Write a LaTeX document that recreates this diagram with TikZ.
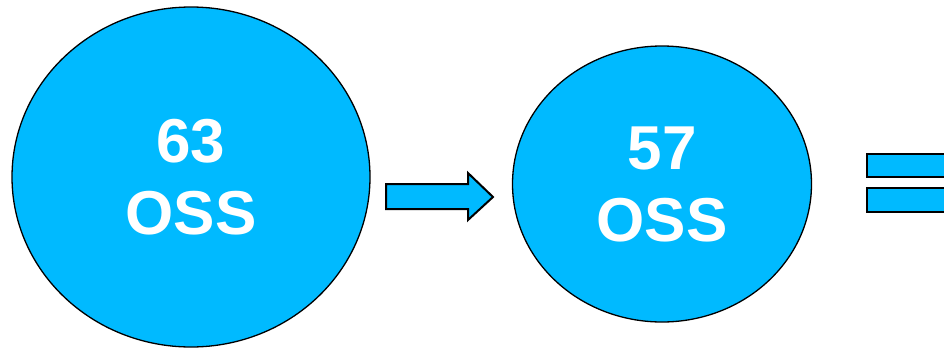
\documentclass[tikz,border=0pt]{standalone}
\usepackage{fontspec}
\setmainfont{Liberation Sans}
\usetikzlibrary{shapes.geometric}
\definecolor{skyfill}{RGB}{0,186,255}
\tikzset{
  bubble/.style={ellipse, draw=black, line width=1.3pt, fill=skyfill, text=white,
    inner sep=0pt, align=center, font=\fontsize{62}{72}\selectfont\bfseries},
  blockshape/.style={draw=black, line width=2pt, fill=skyfill, line join=miter}
}
\begin{document}
\begin{tikzpicture}[x=1pt,y=-1pt]
\useasboundingbox (0,0) rectangle (944,348);
\clip (0,0) rectangle (944,348);
\node[bubble, minimum width=358pt, minimum height=340pt] (big) at (191,177) {63\\OSS};
\node[bubble, minimum width=299pt, minimum height=276pt] (small) at (662,184) {57\\OSS};
% block arrow
\draw[blockshape] (386,184) -- (468,184) -- (468,173) -- (493,197) -- (468,220) -- (468,209) -- (386,209) -- cycle;
% equals sign bars (cut by the right edge)
\draw[blockshape] (867,154) rectangle (960,177);
\draw[blockshape] (867,188) rectangle (960,212);
\end{tikzpicture}
\end{document}
